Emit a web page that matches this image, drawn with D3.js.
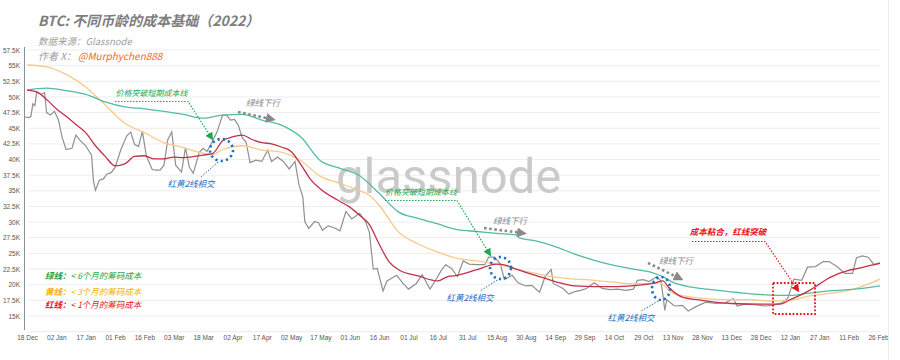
<!DOCTYPE html>
<html>
<head>
<meta charset="utf-8">
<script src="https://cdn.jsdelivr.net/npm/d3@7"></script>
<style>
  body { margin: 0; background: #fff; }
  svg { display: block; font-family: "Noto Sans CJK SC", "Noto Sans", sans-serif; }
</style>
</head>
<body>
<svg id="chart" width="900" height="360"></svg>
<script>
// BTC price (K USD)
const priceSeries = [
  ["2021-12-17",46.8],["2021-12-19",46.7],["2021-12-20",46.9],["2021-12-21",48.9],["2021-12-22",48.6],["2021-12-23",50.8],
  ["2021-12-25",50.4],["2021-12-27",50.7],["2021-12-28",47.5],["2021-12-30",47.1],["2022-01-01",47.7],["2022-01-03",46.4],
  ["2022-01-05",43.5],["2022-01-07",41.6],["2022-01-10",41.8],["2022-01-12",43.9],["2022-01-14",43.1],["2022-01-17",42.2],
  ["2022-01-20",40.7],["2022-01-21",36.5],["2022-01-22",35.1],["2022-01-24",36.7],["2022-01-26",36.9],["2022-01-28",37.7],
  ["2022-01-30",37.9],["2022-02-01",38.7],["2022-02-04",41.6],["2022-02-07",43.8],["2022-02-09",44.4],["2022-02-11",42.4],
  ["2022-02-13",42.1],["2022-02-15",44.5],["2022-02-17",40.6],["2022-02-20",38.4],["2022-02-22",38.3],["2022-02-24",38.3],
  ["2022-02-26",39.1],["2022-02-28",43.2],["2022-03-02",44.4],["2022-03-04",39.1],["2022-03-07",38.0],["2022-03-09",41.9],
  ["2022-03-11",38.8],["2022-03-13",37.8],["2022-03-16",41.1],["2022-03-18",41.8],["2022-03-20",41.3],["2022-03-22",42.4],
  ["2022-03-25",44.3],["2022-03-28",47.1],["2022-03-30",47.1],["2022-04-01",46.3],["2022-04-03",46.4],["2022-04-05",45.5],
  ["2022-04-07",43.5],["2022-04-09",42.8],["2022-04-11",39.5],["2022-04-14",39.9],["2022-04-17",39.7],["2022-04-20",41.5],
  ["2022-04-22",39.7],["2022-04-25",40.4],["2022-04-28",39.7],["2022-05-01",38.5],["2022-05-04",39.7],["2022-05-06",36.0],
  ["2022-05-08",34.0],["2022-05-09",30.1],["2022-05-11",29.0],["2022-05-14",30.1],["2022-05-16",29.9],["2022-05-18",28.7],
  ["2022-05-21",29.4],["2022-05-24",29.1],["2022-05-27",28.6],["2022-05-30",31.7],["2022-06-02",30.5],["2022-06-06",31.4],
  ["2022-06-09",30.1],["2022-06-11",28.4],["2022-06-13",22.5],["2022-06-15",22.6],["2022-06-18",19.0],["2022-06-20",20.6],
  ["2022-06-25",21.5],["2022-06-28",20.3],["2022-07-01",19.3],["2022-07-05",20.2],["2022-07-08",21.6],["2022-07-12",19.3],
  ["2022-07-15",20.8],["2022-07-18",22.4],["2022-07-20",23.2],["2022-07-23",22.6],["2022-07-26",21.3],["2022-07-29",23.8],
  ["2022-08-01",23.3],["2022-08-05",23.2],["2022-08-09",23.2],["2022-08-11",24.4],["2022-08-14",24.4],["2022-08-17",23.3],
  ["2022-08-19",20.8],["2022-08-23",21.5],["2022-08-26",20.3],["2022-08-30",19.8],["2022-09-02",19.9],["2022-09-06",18.8],
  ["2022-09-09",21.4],["2022-09-12",22.4],["2022-09-13",20.2],["2022-09-18",19.4],["2022-09-21",18.5],["2022-09-24",18.9],
  ["2022-09-27",19.1],["2022-09-30",19.4],["2022-10-04",20.3],["2022-10-08",19.4],["2022-10-12",19.2],["2022-10-16",19.3],
  ["2022-10-20",19.1],["2022-10-24",19.3],["2022-10-26",20.7],["2022-10-29",20.8],["2022-11-01",20.5],["2022-11-05",21.3],
  ["2022-11-07",20.6],["2022-11-08",18.5],["2022-11-09",15.9],["2022-11-10",17.6],["2022-11-14",16.6],["2022-11-18",16.7],
  ["2022-11-21",15.8],["2022-11-25",16.5],["2022-11-30",17.2],["2022-12-05",17.0],["2022-12-10",17.1],["2022-12-14",17.8],
  ["2022-12-16",16.6],["2022-12-20",16.9],["2022-12-25",16.8],["2022-12-30",16.6],["2023-01-03",16.7],["2023-01-08",17.1],
  ["2023-01-11",17.9],["2023-01-13",19.9],["2023-01-14",20.9],["2023-01-18",20.7],["2023-01-21",22.8],["2023-01-25",22.9],
  ["2023-01-29",23.7],["2023-02-01",23.7],["2023-02-05",22.9],["2023-02-09",21.8],["2023-02-13",21.8],["2023-02-15",24.3],
  ["2023-02-18",24.6],["2023-02-21",24.4],["2023-02-24",23.2],["2023-02-27",23.5]
];

// < 6 months realized price (green)
const green6m = [
  ["2021-12-18",51.1],["2021-12-28",51.4],["2022-01-07",51.0],["2022-01-17",50.4],["2022-01-27",49.2],["2022-02-06",48.4],
  ["2022-02-16",48.1],["2022-02-26",47.7],["2022-03-08",47.2],["2022-03-18",46.6],["2022-03-28",47.1],["2022-04-07",47.2],
  ["2022-04-17",46.3],["2022-04-27",45.5],["2022-05-07",43.6],["2022-05-17",39.8],["2022-05-27",38.6],["2022-06-06",37.4],
  ["2022-06-16",34.6],["2022-06-26",31.6],["2022-07-06",30.6],["2022-07-16",29.7],["2022-07-26",28.8],["2022-08-05",28.5],
  ["2022-08-15",28.2],["2022-08-25",27.95],["2022-08-27",27.45],["2022-09-04",27.0],["2022-09-14",26.1],["2022-09-24",24.9],
  ["2022-10-04",23.9],["2022-10-14",23.1],["2022-10-24",22.5],["2022-11-03",21.9],["2022-11-08",21.3],["2022-11-13",20.4],
  ["2022-11-23",19.6],["2022-12-03",19.2],["2022-12-13",18.85],["2022-12-23",18.55],["2023-01-02",18.35],["2023-01-12",18.3],
  ["2023-01-22",18.65],["2023-02-01",19.0],["2023-02-11",19.2],["2023-02-21",19.55],["2023-02-27",19.8]
];

// < 3 months realized price (yellow)
const yellow3m = [
  ["2021-12-18",55.1],["2021-12-28",54.8],["2022-01-07",53.6],["2022-01-17",51.6],["2022-01-27",48.7],["2022-02-06",45.8],
  ["2022-02-16",44.3],["2022-02-26",42.7],["2022-03-08",41.9],["2022-03-18",41.0],["2022-03-23",40.8],["2022-03-28",41.6],
  ["2022-04-07",42.2],["2022-04-17",41.5],["2022-04-27",41.2],["2022-05-07",39.8],["2022-05-17",37.3],["2022-05-27",36.2],
  ["2022-06-06",35.0],["2022-06-11",34.3],["2022-06-16",32.7],["2022-06-26",28.4],["2022-07-06",26.5],["2022-07-16",25.2],
  ["2022-07-26",24.2],["2022-08-05",23.8],["2022-08-15",23.3],["2022-08-25",22.5],["2022-09-04",21.8],["2022-09-14",21.2],
  ["2022-09-24",20.9],["2022-10-04",20.7],["2022-10-14",20.4],["2022-10-24",20.15],["2022-11-03",20.2],["2022-11-06",20.3],
  ["2022-11-13",18.7],["2022-11-23",18.0],["2022-12-03",17.7],["2022-12-13",17.6],["2022-12-23",17.6],["2023-01-02",17.4],
  ["2023-01-12",17.5],["2023-01-22",18.2],["2023-02-01",18.6],["2023-02-11",19.1],["2023-02-21",20.1],["2023-02-27",20.9]
];

// < 1 month realized price (red)
const red1m = [
  ["2021-12-18",51.1],["2021-12-23",50.8],["2021-12-28",49.6],["2022-01-02",48.1],["2022-01-07",46.9],["2022-01-12",45.6],
  ["2022-01-17",44.3],["2022-01-22",42.2],["2022-01-27",40.5],["2022-02-01",39.0],["2022-02-06",39.3],["2022-02-11",40.5],
  ["2022-02-16",40.6],["2022-02-21",40.1],["2022-02-26",40.1],["2022-03-03",40.4],["2022-03-08",40.3],["2022-03-18",40.7],
  ["2022-03-23",41.0],["2022-03-28",43.0],["2022-04-02",43.6],["2022-04-07",43.9],["2022-04-12",43.2],["2022-04-17",42.7],
  ["2022-04-22",42.5],["2022-04-27",42.0],["2022-05-02",41.3],["2022-05-07",39.2],["2022-05-12",36.8],["2022-05-17",35.3],
  ["2022-05-27",33.3],["2022-06-01",32.4],["2022-06-06",31.1],["2022-06-11",29.6],["2022-06-16",26.5],["2022-06-21",23.7],
  ["2022-06-26",22.4],["2022-07-06",21.4],["2022-07-16",20.6],["2022-07-21",21.3],["2022-07-26",21.5],["2022-08-05",22.4],
  ["2022-08-15",23.3],["2022-08-20",23.1],["2022-08-25",22.5],["2022-09-04",21.5],["2022-09-14",20.5],["2022-09-24",19.8],
  ["2022-10-04",19.7],["2022-10-14",19.7],["2022-10-24",19.85],["2022-11-03",20.2],["2022-11-08",20.6],["2022-11-11",19.6],
  ["2022-11-18",18.0],["2022-11-28",17.5],["2022-12-13",17.0],["2022-12-28",16.9],["2023-01-07",16.9],["2023-01-12",17.6],
  ["2023-01-17",18.3],["2023-01-22",19.1],["2023-01-27",20.1],["2023-02-01",21.1],["2023-02-11",22.3],["2023-02-16",22.6],
  ["2023-02-21",23.0],["2023-02-27",23.4]
];

const yTicks = [15, 17.5, 20, 22.5, 25, 27.5, 30, 32.5, 35, 37.5, 40, 42.5, 45, 47.5, 50, 52.5, 55, 57.5];
const gridTicks = [12.5].concat(yTicks);
const xTicks = ["2021-12-18","2022-01-02","2022-01-17","2022-02-01","2022-02-16","2022-03-03","2022-03-18","2022-04-02",
  "2022-04-17","2022-05-02","2022-05-17","2022-06-01","2022-06-16","2022-07-01","2022-07-16","2022-07-31","2022-08-15",
  "2022-08-30","2022-09-14","2022-09-29","2022-10-14","2022-10-29","2022-11-13","2022-11-28","2022-12-13","2022-12-28",
  "2023-01-12","2023-01-27","2023-02-11","2023-02-26"];

const legendItems = [
  { label: "绿线：", text: "< 6个月的筹码成本", color: "#1fa245" },
  { label: "黄线：", text: "< 3个月的筹码成本", color: "#f3b000" },
  { label: "红线：", text: "< 1个月的筹码成本", color: "#e5161d" }
];

const parse = d3.utcParse("%Y-%m-%d");
const svg = d3.select("#chart");

const x = d3.scaleUtc()
  .domain([parse("2021-12-18"), parse("2023-02-26")])
  .range([27, 878]);
const y = d3.scaleLinear()
  .domain([15, 57.5])
  .range([316, 50]);

// markers for annotation arrows
const defs = svg.append("defs");
function marker(id, color, size) {
  defs.append("marker")
    .attr("id", id)
    .attr("viewBox", "0 0 10 10")
    .attr("refX", 5).attr("refY", 5)
    .attr("markerWidth", size).attr("markerHeight", size)
    .attr("markerUnits", "userSpaceOnUse")
    .attr("orient", "auto")
    .append("path")
    .attr("d", "M0,0 L10,5 L0,10 Z")
    .attr("fill", color);
}
marker("arGray", "#8a8a8a", 10);
marker("arGreen", "#1fa84f", 8);
marker("arRed", "#e8141c", 8);

// grid
svg.append("g")
  .selectAll("line")
  .data(gridTicks)
  .join("line")
  .attr("x1", 28).attr("x2", 880)
  .attr("y1", d => y(d)).attr("y2", d => y(d))
  .attr("stroke", "#ededed")
  .attr("stroke-width", 1);

// y axis
svg.append("g")
  .attr("transform", "translate(24,0)")
  .call(d3.axisLeft(y).tickValues(yTicks).tickSize(0).tickPadding(4).tickFormat(d => d + "K"))
  .call(g => g.select(".domain").remove())
  .call(g => g.selectAll("text").attr("font-size", 6.5).attr("fill", "#555").attr("font-family", "Liberation Sans, sans-serif"));
svg.append("line")
  .attr("x1", 24.5).attr("x2", 24.5).attr("y1", 47).attr("y2", 330)
  .attr("stroke", "#8a8f96").attr("stroke-width", 1);

// x axis
svg.append("g")
  .attr("transform", "translate(0,334)")
  .call(d3.axisBottom(x).tickValues(xTicks.map(parse)).tickSize(0).tickPadding(1).tickFormat(d3.utcFormat("%d %b")))
  .call(g => g.select(".domain").remove())
  .call(g => g.selectAll("text").attr("font-size", 6.5).attr("fill", "#555").attr("font-family", "Liberation Sans, sans-serif"));

// right panel border
svg.append("line")
  .attr("x1", 888.5).attr("x2", 888.5).attr("y1", 0).attr("y2", 360)
  .attr("stroke", "#ececec");

// watermark
svg.append("text")
  .attr("x", 336).attr("y", 193)
  .attr("font-family", "Roboto, sans-serif")
  .attr("font-size", 49)
  .attr("fill", "#cacaca")
  .text("glassnode");

// lines
const line = d3.line()
  .x(d => x(parse(d[0])))
  .y(d => y(d[1]));
const smooth = d3.line()
  .x(d => x(parse(d[0])))
  .y(d => y(d[1]))
  .curve(d3.curveMonotoneX);

svg.append("path").datum(priceSeries)
  .attr("d", line).attr("fill", "none")
  .attr("stroke", "#8e9092").attr("stroke-width", 1.2);
svg.append("path").datum(yellow3m)
  .attr("d", smooth).attr("fill", "none")
  .attr("stroke", "#f8c98a").attr("stroke-width", 1.3);
svg.append("path").datum(green6m)
  .attr("d", smooth).attr("fill", "none")
  .attr("stroke", "#52bba7").attr("stroke-width", 1.3);
svg.append("path").datum(red1m)
  .attr("d", smooth).attr("fill", "none")
  .attr("stroke", "#c23049").attr("stroke-width", 1.3);

// titles
svg.append("text")
  .attr("x", 38).attr("y", 26)
  .attr("font-size", 14).attr("font-weight", "bold").attr("font-style", "italic")
  .attr("fill", "#7d7d7d")
  .text("BTC: 不同币龄的成本基础（2022）");
svg.append("text")
  .attr("x", 38).attr("y", 45)
  .attr("font-size", 9.5).attr("font-style", "italic")
  .attr("fill", "#a0a0a0")
  .text("数据来源：Glassnode");
const author = svg.append("text")
  .attr("x", 38).attr("y", 60)
  .attr("font-size", 10).attr("font-style", "italic");
author.append("tspan").attr("fill", "#a0a0a0").text("作者 X：");
author.append("tspan").attr("fill", "#f26b21").attr("dx", 2).text("@Murphychen888");

// legend
const lg = svg.append("g").selectAll("text")
  .data(legendItems)
  .join("text")
  .attr("x", 45)
  .attr("y", (d, i) => [279, 295, 307.5][i])
  .attr("font-size", 8.5).attr("font-style", "italic")
  .attr("fill", d => d.color);
lg.append("tspan").attr("font-weight", "bold").text(d => d.label);
lg.append("tspan").text(d => d.text);

// annotations
const ann = svg.append("g").attr("font-style", "italic");

function crossCircle(cx, cy, rx, ry, lx, ly) {
  ann.append("ellipse")
    .attr("cx", cx).attr("cy", cy).attr("rx", rx).attr("ry", ry)
    .attr("fill", "none").attr("stroke", "#1f6fc0").attr("stroke-width", 2.6)
    .attr("stroke-dasharray", "2.2,3.2");
  ann.append("path")
    .attr("d", `M${cx - rx * 0.3},${cy + ry + 1} L${lx + 10},${ly - 7}`)
    .attr("fill", "none").attr("stroke", "#1f6fc0").attr("stroke-width", 1)
    .attr("stroke-dasharray", "1.5,1.5");
  ann.append("text")
    .attr("x", lx).attr("y", ly + 3)
    .attr("text-anchor", "middle")
    .attr("font-size", 8.5).attr("fill", "#1f6fc0")
    .text("红黄2线相交");
}
function grayArrow(x1, y1, x2, y2, tx, ty) {
  ann.append("line")
    .attr("x1", x1).attr("y1", y1).attr("x2", x2).attr("y2", y2)
    .attr("stroke", "#8a8a8a").attr("stroke-width", 2.6)
    .attr("stroke-dasharray", "2.6,2.6")
    .attr("marker-end", "url(#arGray)");
  ann.append("text")
    .attr("x", tx).attr("y", ty + 3)
    .attr("text-anchor", "middle")
    .attr("font-size", 8.5).attr("fill", "#8a8a8a")
    .text("绿线下行");
}
function greenCallout(x1, x2, yl, ax, ay) {
  ann.append("text")
    .attr("x", (x1 + x2) / 2).attr("y", yl - 6)
    .attr("text-anchor", "middle")
    .attr("font-size", 8).attr("fill", "#1fa84f")
    .text("价格突破短期成本线");
  ann.append("path")
    .attr("d", `M${x1},${yl} L${x2},${yl} L${ax},${ay}`)
    .attr("fill", "none").attr("stroke", "#1fa84f").attr("stroke-width", 1.2)
    .attr("stroke-dasharray", "1.5,1.5")
    .attr("marker-end", "url(#arGreen)");
}

greenCallout(115, 188, 101.5, 211, 137);
crossCircle(221.5, 150, 11.5, 11, 191, 184);
grayArrow(238, 112, 271, 119, 263, 103);

greenCallout(385, 457, 200.5, 489, 253);
crossCircle(500.5, 268, 10.5, 11, 470, 298);
grayArrow(484, 228, 522, 233, 510, 221);

crossCircle(661, 288.5, 9, 11.5, 631, 318);
grayArrow(648, 263, 679, 278, 676, 261);

// red callout
ann.append("text")
  .attr("x", 728).attr("y", 235)
  .attr("text-anchor", "middle")
  .attr("font-size", 8.5).attr("font-weight", "bold").attr("fill", "#e8141c")
  .text("成本粘合，红线突破");
ann.append("path")
  .attr("d", "M692,241.5 L765,241.5 L797,289")
  .attr("fill", "none").attr("stroke", "#e8141c").attr("stroke-width", 1.2)
  .attr("stroke-dasharray", "1.5,1.5")
  .attr("marker-end", "url(#arRed)");
ann.append("rect")
  .attr("x", 773).attr("y", 283).attr("width", 42).attr("height", 31)
  .attr("fill", "none").attr("stroke", "#e8141c").attr("stroke-width", 1.8)
  .attr("stroke-dasharray", "1.8,1.8");
</script>
</body>
</html>
